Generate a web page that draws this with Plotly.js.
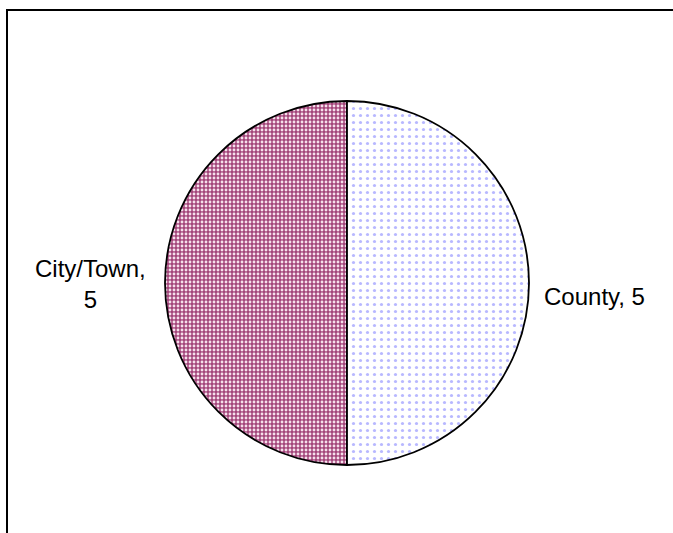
<!DOCTYPE html>
<html>
<head>
<meta charset="utf-8">
<script src="https://cdn.plot.ly/plotly-3.0.1.min.js"></script>
<style>html,body{margin:0;padding:0;background:#fff;}#chart{width:673px;height:533px;}</style>
</head>
<body>
<div id="chart"></div>
<script>
var labels = ["City/Town", "County"];
var values = [5, 5];
var textTemplates = ["%s,<br>%v", "%s, %v"];

var cx = 347, cy = 283, r = 182, W = 673, H = 533;

var trace = {
  type: "pie",
  labels: labels,
  values: values,
  sort: false,
  direction: "clockwise",
  rotation: 180,
  textinfo: "none",
  hoverinfo: "label+value",
  showlegend: false,
  domain: {x: [(cx - r) / W, (cx + r) / W], y: [(H - cy - r) / H, (H - cy + r) / H]},
  marker: {
    colors: ["#a3457a", "#ffffff"],
    line: {color: "#000000", width: 1.8},
    pattern: {
      shape: [".", "."],
      fgcolor: ["#f6e0ec", "#b8b8ff"],
      bgcolor: ["#a3457a", "#ffffff"],
      size: [4, 7],
      solidity: [0.4, 0.16]
    }
  }
};

var annPos = [[90, 284], [594, 296]];
var annotations = labels.map(function (l, i) {
  return {
    xref: "paper", yref: "paper",
    x: annPos[i][0] / W, y: 1 - annPos[i][1] / H,
    xanchor: "center", yanchor: "middle",
    showarrow: false,
    align: "center",
    text: textTemplates[i].replace("%s", l).replace("%v", values[i]),
    font: {family: "Liberation Sans, Arial, sans-serif", size: 24, color: "#000"}
  };
});

var layout = {
  width: W, height: H,
  margin: {l: 0, r: 0, t: 0, b: 0},
  paper_bgcolor: "#ffffff",
  annotations: annotations,
  shapes: [{
    type: "rect", xref: "paper", yref: "paper",
    x0: 7 / W, x1: 1.05, y0: -0.05, y1: 1 - 10 / H,
    line: {color: "#000", width: 2}, fillcolor: "rgba(0,0,0,0)"
  }]
};

Plotly.newPlot("chart", [trace], layout, {displayModeBar: false, staticPlot: true});
</script>
</body>
</html>
